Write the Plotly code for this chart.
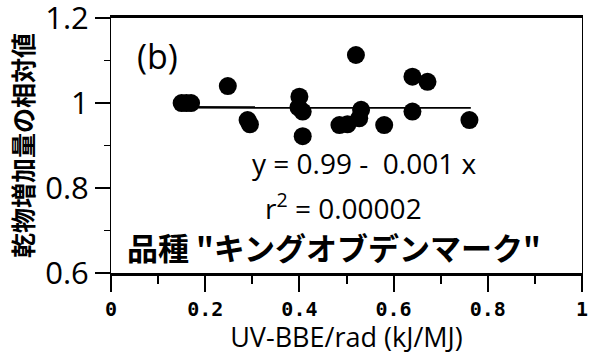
import plotly.graph_objects as go

x_vals = [0.150, 0.160, 0.170, 0.248, 0.290, 0.295, 0.400, 0.398, 0.407, 0.407,
          0.520, 0.485, 0.502, 0.531, 0.527, 0.580, 0.640, 0.672, 0.640, 0.761]
y_vals = [1.000, 1.000, 1.000, 1.040, 0.960, 0.950, 1.015, 0.990, 0.980, 0.922,
          1.113, 0.948, 0.950, 0.984, 0.964, 0.948, 1.062, 1.050, 0.980, 0.960]
fit_x = [0.150, 0.764]
intercept, slope = 0.99, -0.001
fit_y = [intercept + slope * v for v in fit_x]

x_ticks = [0, 0.2, 0.4, 0.6, 0.8, 1]
x_tick_labels = ["0", "0.2", "0.4", "0.6", "0.8", "1"]
y_ticks = [0.6, 0.8, 1.0, 1.2]
y_tick_labels = ["0.6", "0.8", "1", "1.2"]

fig = go.Figure()
fig.add_trace(go.Scatter(x=fit_x, y=fit_y, mode="lines",
                         line=dict(color="black", width=2.5), showlegend=False))
fig.add_trace(go.Scatter(x=x_vals, y=y_vals, mode="markers",
                         marker=dict(color="black", size=18), showlegend=False))

jp = "Noto Sans CJK JP"
fig.update_layout(
    width=593, height=355,
    margin=dict(l=111, r=11, t=18, b=82),
    paper_bgcolor="white", plot_bgcolor="white",
    font=dict(family="Open Sans", color="black"),
    xaxis=dict(range=[0, 1], tickvals=x_ticks, ticktext=x_tick_labels, automargin=False,
               showgrid=False, zeroline=False, ticklabeloverflow="allow",
               showline=True, linewidth=3, linecolor="black", mirror=True,
               ticks="outside", ticklen=16, tickwidth=2, tickcolor="black",
               minor=dict(dtick=0.1, ticks="outside", ticklen=8, tickwidth=1.5, tickcolor="black"),
               tickfont=dict(family="DejaVu Sans Mono", size=20, color="black", weight="bold"),
               title=dict(text="UV-BBE/rad (kJ/MJ)", font=dict(family="Open Sans", size=27), standoff=2)),
    yaxis=dict(range=[0.6, 1.2001], tickvals=y_ticks, ticktext=y_tick_labels, automargin=False,
               showgrid=False, zeroline=False, ticklabeloverflow="allow",
               showline=True, linewidth=1, linecolor="black", mirror=True,
               ticks="outside", ticklen=15, tickwidth=2, tickcolor="black",
               minor=dict(dtick=0.1, ticks="outside", ticklen=6, tickwidth=1, tickcolor="black"),
               tickfont=dict(family="Open Sans", size=31, color="black"),
               title=dict(text="<b>乾物増加量の相対値</b>", font=dict(family=jp, size=25), standoff=4)),
)

fig.add_annotation(x=0.05, y=1.11, xref="x", yref="y", text="(b)", showarrow=False,
                   xanchor="left", yanchor="middle", font=dict(family="Open Sans", size=34))
fig.add_annotation(x=0.538, y=0.859, xref="x", yref="y", text="y = 0.99 -  0.001 x",
                   showarrow=False, xanchor="center", yanchor="middle",
                   font=dict(family="Open Sans", size=28))
fig.add_annotation(x=0.494, y=0.756, xref="x", yref="y", text="r<sup>2</sup> = 0.00002",
                   showarrow=False, xanchor="center", yanchor="middle",
                   font=dict(family="Open Sans", size=28))
fig.add_annotation(x=0.03, y=0.663, xref="x", yref="y",
                   text="<b>品種 \"キングオブデンマーク\"</b>",
                   showarrow=False, xanchor="left", yanchor="middle",
                   font=dict(family=jp, size=31))

fig.write_html("out.html")
